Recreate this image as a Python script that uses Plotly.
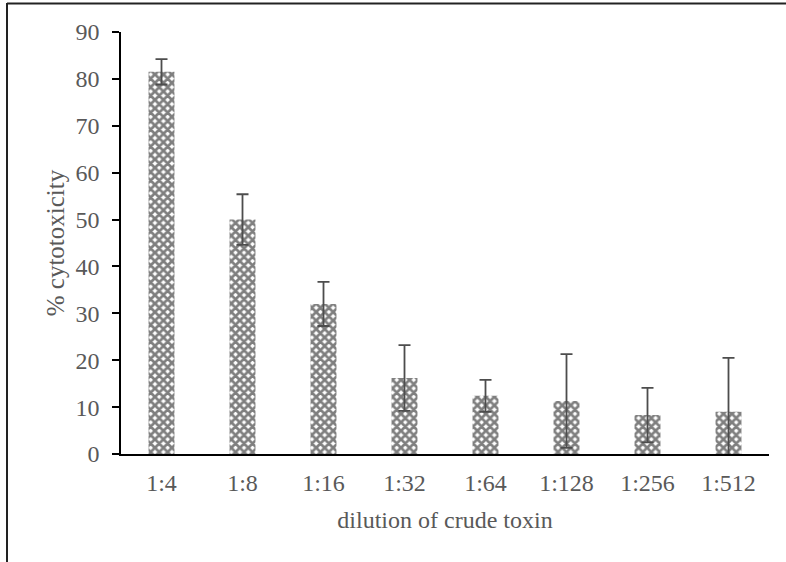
import plotly.graph_objects as go

categories = ["1:4", "1:8", "1:16", "1:32", "1:64", "1:128", "1:256", "1:512"]
values = [81.5, 50.0, 32.0, 16.2, 12.4, 11.3, 8.3, 9.0]
errors = [2.7, 5.4, 4.7, 7.0, 3.4, 10.0, 5.8, 11.5]
y_ticks = [0, 10, 20, 30, 40, 50, 60, 70, 80, 90]

FONT = "Liberation Serif"
GRAY = "#595959"

fig = go.Figure()
fig.add_trace(go.Bar(
    x=categories, y=values,
    marker=dict(
        color="white",
        line=dict(width=0),
        pattern=dict(shape="x", fgcolor="#000000", bgcolor="white", size=6, solidity=0.7),
    ),
    error_y=dict(type="data", array=errors, visible=True, color="#4d4d4d", thickness=1.8, width=6),
))

W, H = 786, 562
L, R, T, B = 121, 17, 32, 108
pw, ph = W - L - R, H - T - B

def px(x):
    return (x - L) / pw

def py(y):
    return (H - B - y) / ph

fig.update_layout(
    width=W, height=H,
    margin=dict(l=L, r=R, t=T, b=B, pad=0),
    paper_bgcolor="white", plot_bgcolor="white",
    bargap=0.68,
    showlegend=False,
    font=dict(family=FONT, color=GRAY, size=24),
    xaxis=dict(
        showline=True, linecolor="black", linewidth=1.5,
        ticks="", showgrid=False, zeroline=False,
        tickfont=dict(family=FONT, size=24, color=GRAY),
        ticklabelstandoff=6,
        title=dict(text="dilution of crude toxin", font=dict(family=FONT, size=24, color=GRAY), standoff=17),
    ),
    yaxis=dict(
        range=[0, 90], tickvals=y_ticks,
        showline=True, linecolor="black", linewidth=1.5,
        ticks="outside", ticklen=7, tickwidth=1.5, tickcolor="black",
        showgrid=False, zeroline=False,
        tickfont=dict(family=FONT, size=24, color=GRAY),
        ticklabelstandoff=8,
        title=dict(text="% cytotoxicity", font=dict(family=FONT, size=25, color=GRAY), standoff=4),
    ),
    shapes=[
        dict(type="line", xref="paper", yref="paper", x0=px(7), x1=px(786), y0=py(3.5), y1=py(3.5),
             line=dict(color="#222222", width=2)),
        dict(type="line", xref="paper", yref="paper", x0=px(7), x1=px(7), y0=py(3), y1=py(562),
             line=dict(color="#222222", width=2)),
    ],
)

fig.write_html("out.html")
